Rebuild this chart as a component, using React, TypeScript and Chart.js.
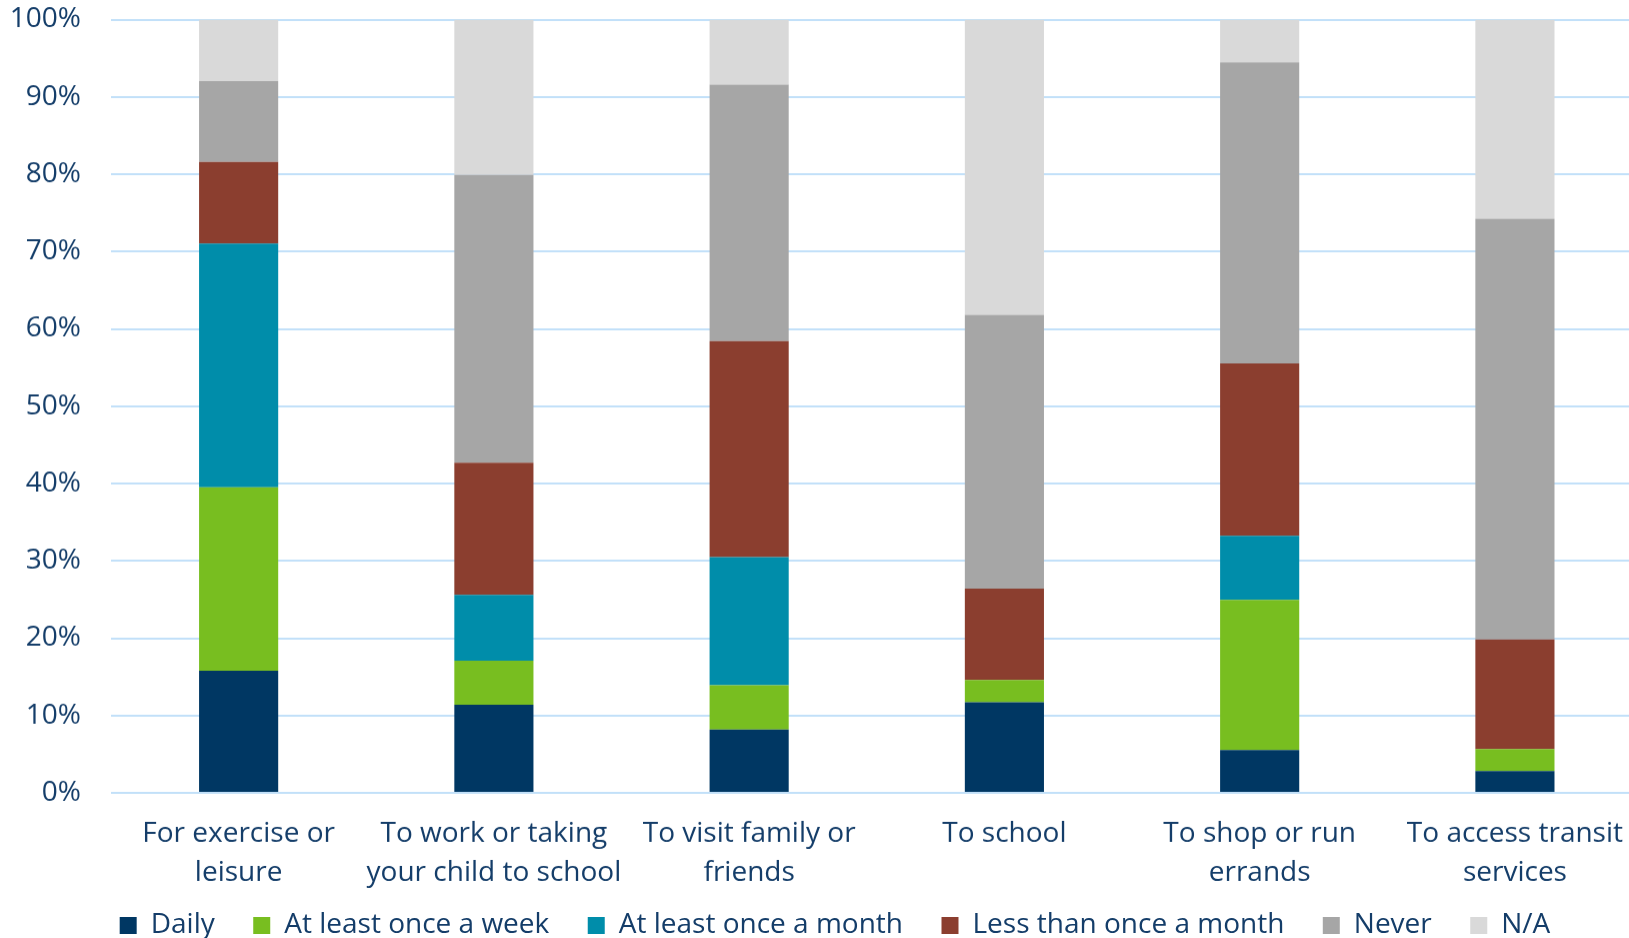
import React, { useEffect, useRef } from "react";
import { Chart, registerables } from "chart.js";

Chart.register(...registerables);

const categories: (string | string[])[] = [
  ["For exercise or", "leisure"],
  ["To work or taking", "your child to school"],
  ["To visit family or", "friends"],
  "To school",
  ["To shop or run", "errands"],
  ["To access transit", "services"],
];

const daily = [15.8, 11.4, 8.2, 11.7, 5.55, 2.8];
const weekly = [23.7, 5.7, 5.7, 2.9, 19.4, 2.85];
const monthly = [31.55, 8.5, 16.6, 0, 8.3, 0];
const lessThanMonthly = [10.55, 17.1, 27.9, 11.8, 22.3, 14.2];
const never = [10.45, 37.2, 33.2, 35.4, 38.9, 54.4];
const notApplicable = [7.95, 20.1, 8.4, 38.2, 5.55, 25.75];

const seriesNames = [
  "Daily",
  "At least once a week",
  "At least once a month",
  "Less than once a month",
  "Never",
  "N/A",
];
const seriesColors = ["#003763", "#78BE20", "#008DAA", "#8B3E2F", "#A6A6A6", "#D9D9D9"];

const TEXT = "#143D69";
const FONT = "'Open Sans', sans-serif";

const legendShift = {
  id: "legendShift",
  afterLayout(chart: any) {
    const lg = chart.legend;
    if (lg) {
      lg.top -= 20;
      lg.bottom -= 20;
      lg.left += 7;
      lg.right += 7;
    }
  },
};

export default function App() {
  const ref = useRef<HTMLCanvasElement | null>(null);

  useEffect(() => {
    document.documentElement.style.overflow = "hidden";
    document.body.style.overflow = "hidden";
    document.body.style.margin = "0";
    const values = [daily, weekly, monthly, lessThanMonthly, never, notApplicable];
    const chart = new Chart(ref.current as HTMLCanvasElement, {
      type: "bar",
      data: {
        labels: categories,
        datasets: values.map((v, i) => ({
          label: seriesNames[i],
          data: v,
          backgroundColor: seriesColors[i],
          borderWidth: 0,
          barPercentage: 1,
          categoryPercentage: 0.31,
        })),
      },
      plugins: [legendShift],
      options: {
        animation: false,
        responsive: true,
        maintainAspectRatio: false,
        layout: { padding: { left: 11, right: 0, top: 0, bottom: 0 } },
        plugins: {
          tooltip: { enabled: false },
          legend: {
            position: "bottom",
            labels: {
              boxWidth: 17,
              boxHeight: 17,
              padding: 38.5,
              color: TEXT,
              font: { family: FONT, size: 28 },
            },
          },
        },
        scales: {
          x: {
            stacked: true,
            grid: { display: false, drawTicks: false },
            border: { display: false },
            ticks: {
              color: TEXT,
              padding: 22,
              maxRotation: 0,
              autoSkip: false,
              font: { family: FONT, size: 28, lineHeight: 1.375 },
            },
            afterFit: (scale: any) => {
              scale.height = 100;
            },
          },
          y: {
            stacked: true,
            min: 0,
            max: 100,
            grid: { color: "#C2E0F9", lineWidth: 2, drawTicks: false },
            border: { display: false },
            ticks: {
              stepSize: 10,
              padding: 30,
              color: TEXT,
              font: { family: FONT, size: 28 },
              callback: (v: any) => v + "%",
            },
            afterFit: (scale: any) => {
              scale.width = 100;
              scale.paddingTop = 19.5;
            },
          },
        },
      },
    });
    return () => chart.destroy();
  }, []);

  return (
    <div style={{ position: "absolute", left: 0, top: 0, width: 1645, height: 968.5 }}>
      <canvas ref={ref} />
    </div>
  );
}
